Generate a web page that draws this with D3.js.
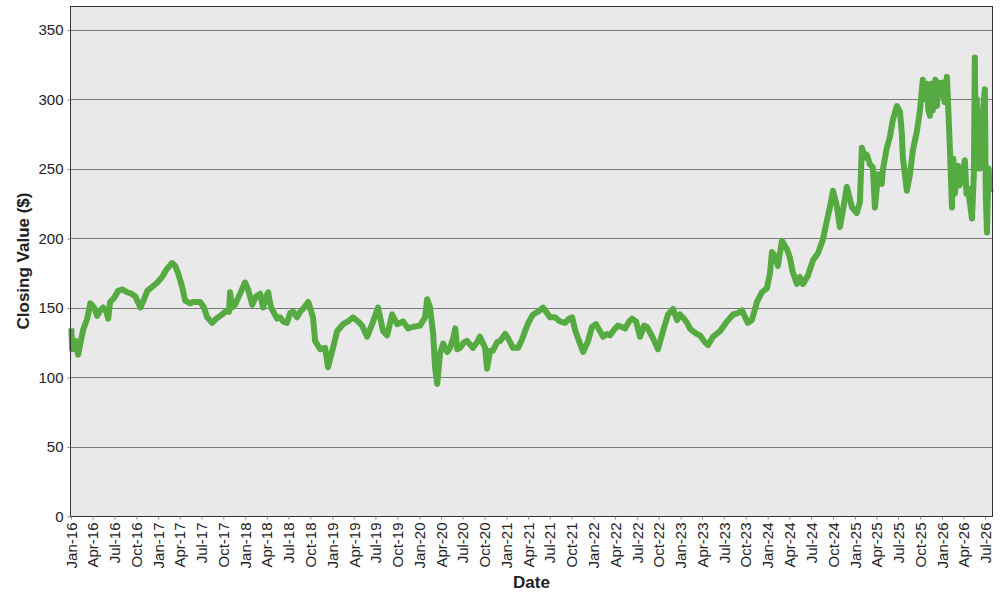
<!DOCTYPE html>
<html>
<head>
<meta charset="utf-8">
<script src="https://cdn.jsdelivr.net/npm/d3@7"></script>
<style>
  body { margin: 0; background: #fff; }
  text { font-family: "Liberation Sans", Arial, sans-serif; }
</style>
</head>
<body>
<div id="chart"></div>
<script>
// closing values
var dates = [
  "2016-01-02","2016-01-06","2016-01-19","2016-01-31","2016-02-09","2016-02-21","2016-03-09","2016-03-22",
  "2016-04-07","2016-04-20","2016-05-03","2016-05-15","2016-05-28","2016-06-05","2016-06-13","2016-06-30",
  "2016-07-17","2016-08-03","2016-08-24","2016-09-10","2016-09-27","2016-10-18","2016-10-31","2016-11-16",
  "2016-12-07","2016-12-28","2017-01-17","2017-02-07","2017-02-28","2017-03-13","2017-03-25","2017-04-11",
  "2017-04-24","2017-05-15","2017-05-27","2017-06-26","2017-07-12","2017-07-25","2017-08-15","2017-09-01",
  "2017-09-18","2017-10-17","2017-10-25","2017-10-29","2017-11-07","2017-11-19","2017-12-10","2017-12-31",
  "2018-01-13","2018-01-30","2018-02-15","2018-03-04","2018-03-17","2018-03-29","2018-04-07","2018-04-19",
  "2018-05-15","2018-05-27","2018-06-09","2018-06-25","2018-07-08","2018-07-21","2018-08-06","2018-08-19",
  "2018-09-05","2018-09-22",
  "2018-10-12","2018-10-21","2018-11-11","2018-12-02","2018-12-14","2018-12-27","2019-01-04","2019-01-21",
  "2019-02-15","2019-03-08","2019-03-29","2019-04-19","2019-05-06","2019-05-27","2019-06-17","2019-07-12",
  "2019-08-02","2019-08-19","2019-09-09","2019-09-30","2019-10-25","2019-11-15","2019-12-02","2020-01-04",
  "2020-01-25","2020-02-03","2020-02-15","2020-02-28","2020-03-07","2020-03-16","2020-03-28","2020-04-10",
  "2020-04-27","2020-05-09","2020-05-22","2020-05-31","2020-06-08","2020-06-20","2020-07-07","2020-07-19",
  "2020-08-13","2020-08-30","2020-09-11","2020-10-03","2020-10-11","2020-10-24","2020-11-05","2020-11-22",
  "2020-12-05","2020-12-26","2021-01-07","2021-01-28","2021-02-18","2021-03-07","2021-03-19","2021-04-05",
  "2021-04-22","2021-05-13","2021-06-03","2021-06-20","2021-07-02",
  "2021-07-23","2021-08-13","2021-09-03","2021-09-20","2021-10-03","2021-10-15","2021-11-05","2021-11-18",
  "2021-12-09","2021-12-25","2022-01-11","2022-01-28","2022-02-10","2022-02-26","2022-03-11","2022-03-28",
  "2022-04-13","2022-04-30","2022-05-13","2022-05-30","2022-06-11","2022-06-28","2022-07-15","2022-08-01",
  "2022-08-13","2022-08-26","2022-09-07","2022-09-28","2022-10-19","2022-11-09","2022-11-30","2022-12-17",
  "2022-12-29","2023-01-15","2023-01-28","2023-02-09","2023-02-22","2023-03-11","2023-03-23","2023-04-13",
  "2023-04-26","2023-05-17","2023-06-15","2023-07-14","2023-08-09","2023-08-29","2023-09-15","2023-10-10",
  "2023-10-27","2023-11-17","2023-12-08","2023-12-29","2024-01-11","2024-01-19","2024-02-01","2024-02-13",
  "2024-03-01","2024-03-22","2024-04-03","2024-04-16","2024-05-03","2024-05-15","2024-05-28","2024-06-18",
  "2024-07-09","2024-07-30","2024-08-20","2024-09-06","2024-09-18","2024-10-01","2024-10-13","2024-10-18",
  "2024-10-30","2024-11-12","2024-11-28","2024-12-20","2025-01-09","2025-01-22","2025-01-30","2025-02-12",
  "2025-02-20","2025-03-05","2025-03-17","2025-03-26","2025-04-08","2025-04-24","2025-04-28","2025-05-15",
  "2025-05-28","2025-06-09","2025-06-26","2025-07-09","2025-07-17","2025-07-21","2025-08-07","2025-08-20",
  "2025-09-01","2025-09-18","2025-10-01","2025-10-13","2025-10-20","2025-10-30","2025-11-05","2025-11-12",
  "2025-11-18","2025-11-24","2025-12-04","2025-12-11","2025-12-17",
  "2025-12-24","2026-01-05","2026-01-12","2026-01-22","2026-01-26","2026-02-04","2026-02-12","2026-02-18","2026-02-24","2026-03-09",
  "2026-03-16","2026-03-26","2026-04-07","2026-04-14","2026-04-20","2026-05-07","2026-05-15","2026-05-19","2026-05-23","2026-05-27","2026-06-01","2026-06-09",
  "2026-06-22","2026-06-30","2026-07-04","2026-07-09","2026-07-15","2026-07-21","2026-07-25"
];
var closes = [
  135,120,126,116,124,134,142,153,
  150,144,148,150,147,142,154,157,
  162,163,161,160,158,150,155,162,
  165,168,172,178,182,180,175,165,
  155,153,154,154,150,143,139,142,
  144,148,147,161,150,152,160,168,
  163,152,158,160,150,158,161,150,
  142,143,140,139,146,147,143,147,
  150,154,
  143,126,120,121,107,116,121,133,
  138,140,143,140,137,129,138,150,
  133,130,145,138,140,135,136,137,
  143,156,150,131,107,95,117,124,
  118,121,128,135,120,121,125,126,
  121,125,129,121,106,119,119,125,
  126,131,128,121,121,127,133,140,
  145,147,150,146,143,
  143,140,139,142,143,134,124,118,
  126,136,138,133,129,131,130,134,
  137,136,135,140,142,140,129,137,
  136,132,128,120,133,145,149,141,
  145,142,139,135,133,131,130,125,
  123,129,133,140,145,146,148,139,
  141,154,161,164,175,190,187,180,
  198,192,186,175,167,172,167,173,
  184,189,199,213,222,234,226,222,
  208,220,237,222,218,226,265,258,
  260,253,251,222,246,239,249,265,
  273,285,295,291,275,258,234,246,
  263,277,292,314,300,311,292,288,
  311,292,314,295,312,
  303,312,298,316,300,262,222,257,232,252,
  238,243,256,232,236,214,246,330,250,300,270,250,
  291,307,230,204,250,236,233
];
var yTicks = [0, 50, 100, 150, 200, 250, 300, 350];
var xStart = "2016-01-01", xEnd = "2026-07-30";

var W = 1000, H = 600;
var padL = 71, padR = 992, padT = 6, padB = 516;

var parse = d3.timeParse("%Y-%m-%d");
var data = dates.map(function (d, i) { return { date: parse(d), close: closes[i] }; });

var svg = d3.select("#chart").append("svg")
  .attr("width", W)
  .attr("height", H);

var x = d3.scaleTime()
  .domain([parse(xStart), parse(xEnd)])
  .range([padL, padR]);

var y = d3.scaleLinear()
  .domain([0, 367])
  .range([padB, padT]);

// plot background
svg.append("rect")
  .attr("x", padL)
  .attr("y", padT)
  .attr("width", padR - padL)
  .attr("height", padB - padT)
  .attr("fill", "#e9e9e9");

// gridlines
svg.append("g").selectAll("line")
  .data(yTicks.slice(1))
  .enter().append("line")
  .attr("x1", padL)
  .attr("x2", padR)
  .attr("y1", function (d) { return Math.round(y(d)) + 0.5; })
  .attr("y2", function (d) { return Math.round(y(d)) + 0.5; })
  .attr("stroke", "#7a7a7a")
  .attr("stroke-width", 1);

// the line
var line = d3.line()
  .x(function (d) { return x(d.date); })
  .y(function (d) { return y(d.close); });

svg.append("path")
  .datum(data)
  .attr("d", line)
  .attr("fill", "none")
  .attr("stroke", "#55aa42")
  .attr("stroke-width", 6)
  .attr("stroke-linejoin", "round");

// frame
svg.append("rect")
  .attr("x", padL - 0.5)
  .attr("y", padT + 0.5)
  .attr("width", padR - padL + 1)
  .attr("height", padB - padT)
  .attr("fill", "none")
  .attr("stroke", "#333")
  .attr("stroke-width", 1);

// y axis
var yAxis = d3.axisLeft(y)
  .tickValues(yTicks)
  .tickSize(3)
  .tickPadding(4);

var gy = svg.append("g")
  .attr("transform", "translate(" + (padL - 0.5) + ",0.5)")
  .call(yAxis);
gy.select(".domain").remove();
gy.selectAll(".tick line").attr("stroke", "#888");
gy.selectAll(".tick text")
  .attr("font-size", "15px")
  .attr("fill", "#222")
  .style("font-family", "'Liberation Sans', Arial, sans-serif");

// x axis, quarterly ticks
var xAxis = d3.axisBottom(x)
  .ticks(d3.timeMonth.every(3))
  .tickFormat(d3.timeFormat("%b-%y"))
  .tickSize(3);

var gx = svg.append("g")
  .attr("transform", "translate(0," + (padB + 0.5) + ")")
  .call(xAxis);
gx.select(".domain").remove();
gx.selectAll(".tick line").attr("stroke", "#888");
gx.selectAll(".tick text")
  .attr("font-size", "15px")
  .attr("fill", "#222")
  .style("font-family", "'Liberation Sans', Arial, sans-serif")
  .attr("text-anchor", "end")
  .attr("transform", "rotate(-90)")
  .attr("x", -6)
  .attr("y", 0)
  .attr("dy", "0.35em");

// axis titles
svg.append("text")
  .attr("transform", "translate(29," + ((padT + padB) / 2) + ") rotate(-90)")
  .attr("text-anchor", "middle")
  .attr("font-size", "17px")
  .attr("font-weight", "bold")
  .attr("fill", "#222")
  .text("Closing Value ($)");

svg.append("text")
  .attr("x", (padL + padR) / 2)
  .attr("y", 588)
  .attr("text-anchor", "middle")
  .attr("font-size", "17px")
  .attr("font-weight", "bold")
  .attr("fill", "#222")
  .text("Date");
</script>
</body>
</html>
